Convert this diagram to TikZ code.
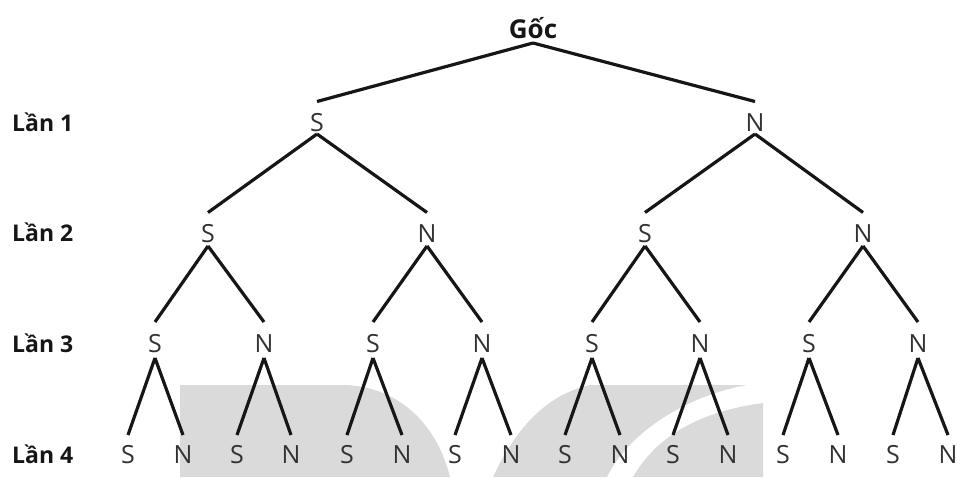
\documentclass[tikz,border=0pt]{standalone}
\usepackage{fontspec}
\setmainfont{Open Sans}
\definecolor{wm}{RGB}{218,218,218}
\definecolor{lettergrey}{RGB}{50,50,50}
\definecolor{linecol}{RGB}{22,22,22}
\tikzset{
  leaf/.style={font=\fontsize{25}{25}\selectfont, text=lettergrey, inner sep=0pt, anchor=base},
  rootst/.style={font=\bfseries\fontsize{26}{26}\selectfont, text=linecol, inner sep=0pt, anchor=base},
  lvl/.style={font=\bfseries\fontsize{23}{23}\selectfont, text=linecol, inner sep=0pt, anchor=base west},
  branch/.style={line width=3.2pt, draw=linecol}
}
\begin{document}
\begin{tikzpicture}[x=1pt,y=-1pt]
\useasboundingbox (0,0) rectangle (957,477);
% watermark
\fill[wm] (180,477) -- (180,385) -- (345,385) .. controls (402,387) and (438,428) .. (450,477) -- cycle;
\fill[wm] (493,477) .. controls (515,430) and (545,395) .. (590,385) -- (747,385) .. controls (690,395) and (630,430) .. (607,477) -- cycle;
\fill[wm] (633,477) .. controls (660,430) and (710,410) .. (763,403) -- (763,477) -- cycle;
% level labels
\node[lvl] (l1) at (12,131) {Lần 1};
\node[lvl] (l2) at (12,241) {Lần 2};
\node[lvl] (l3) at (12,352) {Lần 3};
\node[lvl] (l4) at (12,463) {Lần 4};
% tree nodes
\node[rootst] (r) at (533,38) {Gốc};
\foreach \x/\t [count=\i] in {317/S,755/N}
  \node[leaf] (a\i) at (\x,131) {\t};
\foreach \x/\t [count=\i] in {208/S,427/N,645/S,863/N}
  \node[leaf] (b\i) at (\x,242) {\t};
\foreach \x/\t [count=\i] in {155/S,264/N,373/S,482/N,592/S,700/N,809/S,918/N}
  \node[leaf] (c\i) at (\x,352) {\t};
\foreach \x/\t [count=\i] in {128/S,183/N,237/S,291/N,347/S,402/N,455/S,511/N,565/S,620/N,673/S,728/N,783/S,838/N,893/S,948/N}
  \node[leaf] (d\i) at (\x,463) {\t};
% connectors
\foreach \i in {1,2}
  \draw[branch] ([yshift=-5pt]r.base) -- ([yshift=29.5pt]a\i.base);
\foreach \i in {1,...,4}{
  \pgfmathtruncatemacro\p{(\i+1)/2}
  \draw[branch] ([yshift=-3pt]a\p.base) -- ([yshift=29.5pt]b\i.base);
}
\foreach \i in {1,...,8}{
  \pgfmathtruncatemacro\p{(\i+1)/2}
  \draw[branch] ([yshift=-4pt]b\p.base) -- ([yshift=30pt]c\i.base);
}
\foreach \i in {1,...,16}{
  \pgfmathtruncatemacro\p{(\i+1)/2}
  \draw[branch] ([yshift=-6pt]c\p.base) -- ([yshift=28pt]d\i.base);
}
\end{tikzpicture}
\end{document}
